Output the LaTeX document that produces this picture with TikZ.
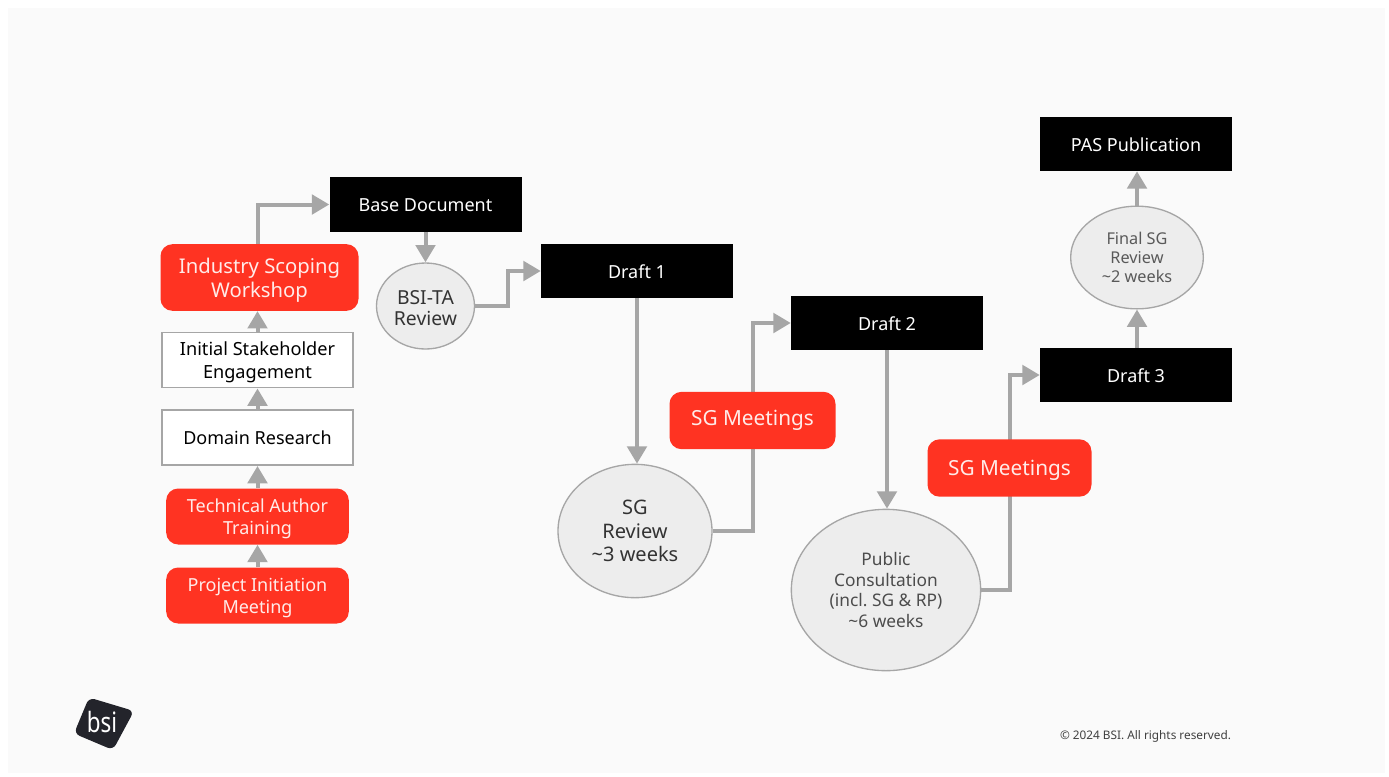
\documentclass[tikz,border=0pt]{standalone}
\usepackage{fontspec}
\setmainfont{Noto Sans}
\usetikzlibrary{arrows.meta,shapes.geometric,backgrounds,calc}
\definecolor{pagebg}{HTML}{FAFAFA}
\definecolor{redbox}{HTML}{FF3322}
\definecolor{linegray}{HTML}{A6A6A6}
\definecolor{ellfill}{HTML}{EDEDED}
\definecolor{logodark}{HTML}{23242B}
\definecolor{textgray}{HTML}{404040}
\newcommand{\fs}[2]{\fontsize{#1}{#2}\selectfont}
\tikzset{
  x=0.75pt,y=-0.75pt,
  blackbox/.style={draw=none,fill=black,text=white,minimum width=144pt,minimum height=40.5pt,inner sep=0pt,align=center,font=\fs{13.5}{17},text height=10.8pt,text depth=0pt},
  redround/.style={fill=redbox,text=white!90!redbox,rounded corners=9pt,inner sep=0pt,align=center},
  whitebox/.style={draw=linegray,line width=1.2pt,fill=white,inner sep=0pt,align=center,minimum width=143pt},
  ell/.style={ellipse,draw=linegray,line width=1pt,fill=ellfill,inner sep=0pt,text=black!80},
  conn/.style={draw=linegray,line width=3pt,-{Triangle[width=14.5pt,length=13pt]}},
}
\begin{document}
\begin{tikzpicture}
\useasboundingbox (0,0) rectangle (1389,776);
\begin{scope}[on background layer]
\fill[white] (0,0) rectangle (1389,776);
\fill[pagebg] (8,8) rectangle (1385,773);
\end{scope}
% boxes
\node[blackbox,minimum height=41pt] (base) at (425.5,204.5) {Base Document};
\node[blackbox] (d1) at (637,271) {Draft 1};
\node[blackbox] (d2) at (887,323) {Draft 2};
\node[blackbox] (d3) at (1136,375) {Draft 3};
\node[blackbox] (pas) at (1136,144) {PAS Publication};
\node[redround,minimum width=148.5pt,minimum height=50pt,font=\fs{15.2}{18},text depth=0pt] (isw) at (259.5,277.5) {Industry Scoping\\Workshop};
\node[whitebox,minimum height=41.5pt,font=\fs{13.6}{17.3},text depth=0.4pt] (ise) at (257.5,360) {Initial Stakeholder\\Engagement};
\node[whitebox,minimum height=41.5pt,font=\fs{13.5}{17}] (dr) at (257.5,437.5) {Domain Research};
\node[redround,minimum width=137pt,minimum height=42pt,font=\fs{13.5}{16.5},text depth=0pt] (taa) at (257.5,516.5) {Technical Author\\Training};
\node[redround,minimum width=137pt,minimum height=42pt,font=\fs{13.5}{16.5},text depth=0pt] (pim) at (257.5,595.5) {Project Initiation\\Meeting};
\node[redround,minimum width=124.5pt,minimum height=43pt,font=\fs{15.6}{17}] (sg1) at (752.5,420.5) {SG Meetings};
\node[redround,minimum width=123pt,minimum height=43pt,font=\fs{15.6}{17},text depth=0pt] (sg2) at (1009.5,468) {SG Meetings};
% ellipses
\node[ell,minimum width=73.5pt,minimum height=64.5pt,align=center,font=\fs{14.5}{16},text height=29.5pt,text depth=0pt] (bta) at (425.5,306) {BSI-TA\\Review};
\node[ell,minimum width=115.5pt,minimum height=100pt,align=center,font=\fs{15}{17.5}] (sgr) at (635,531) {SG\\Review\\\textasciitilde3 weeks};
\node[ell,minimum width=142pt,minimum height=121pt,align=center,font=\fs{13}{15.5},text=black!70] (pc) at (886,590) {Public\\Consultation\\(incl.\ SG \& RP)\\\textasciitilde6 weeks};
\node[ell,minimum width=99.5pt,minimum height=77pt,align=center,font=\fs{12.2}{14},text=black!65] (fsg) at (1137,257.5) {Final SG\\Review\\\textasciitilde2 weeks};
% connectors
\begin{scope}[on background layer]
\draw[conn] (pim.north) -- (taa.south);
\draw[conn] (taa.north) -- (dr.south);
\draw[conn] (dr.north) -- (ise.south);
\draw[conn] (ise.north) -- (isw.south -| ise.north);
\draw[conn] (isw.north -| ise.north) |- (base.west);
\draw[conn] (base.south) -- (bta.north);
\draw[conn] (bta.east) -- ++(33,0) |- (d1.west);
\draw[conn] (d1.south) -- (sgr.north -| d1.south);
\draw[conn] (sgr.east) -| (sg1.south) -- (sg1.north) |- (d2.west);
\draw[conn] (d2.south) -- (pc.north -| d2.south);
\draw[conn] (pc.east) -| (sg2.south) -- (sg2.north) |- (d3.west);
\draw[conn] (d3.north -| fsg.south) -- (fsg.south);
\draw[conn] (fsg.north) -- (pas.south -| fsg.north);
\end{scope}
% logo
\fill[logodark,rounded corners=4.5pt] (89,697.5) -- (134,711) -- (113,750) -- (74,733.5) -- cycle;
\node[text=white,inner sep=0pt,font=\fs{21}{21},xscale=0.8] (logo) at (102,722) {bsi};
\node[text=textgray,inner sep=0pt,font=\fs{8.85}{10}] (copy) at (1145.5,736.5) {© 2024 BSI. All rights reserved.};
\end{tikzpicture}
\end{document}
